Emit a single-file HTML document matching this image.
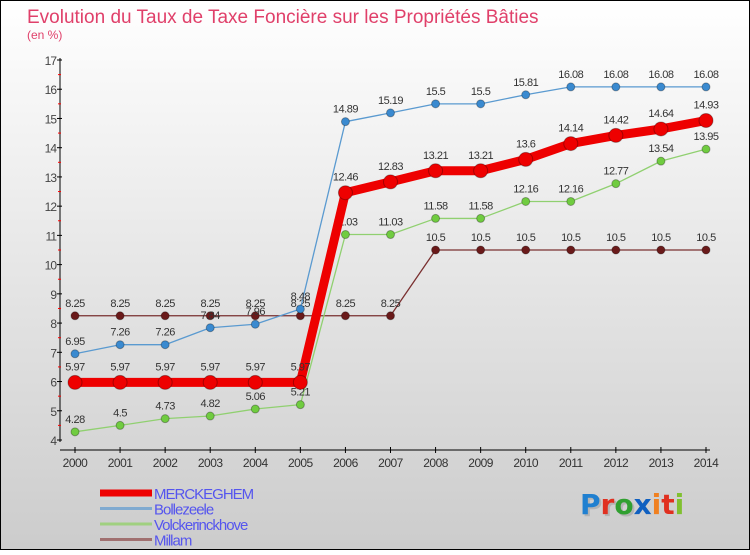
<!DOCTYPE html>
<html><head><meta charset="utf-8"><style>
html,body{margin:0;padding:0}
body{width:750px;height:550px;overflow:hidden;font-family:"Liberation Sans",sans-serif}
</style></head><body>
<svg id="chart" width="750" height="550" xmlns="http://www.w3.org/2000/svg">
<defs>
<linearGradient id="bg" x1="0" y1="0" x2="0" y2="1"><stop offset="0" stop-color="#ffffff"/><stop offset="1" stop-color="#cccccc"/></linearGradient>
</defs>
<rect x="0.5" y="0.5" width="749" height="549" fill="url(#bg)" stroke="#000"/>
<text x="27" y="23" font-size="19" fill="#e0406a">Evolution du Taux de Taxe Foncière sur les Propriétés Bâties</text>
<text x="27" y="39" font-size="12" fill="#e0406a">(en %)</text>
<g id="axes"></g>
<g id="series"></g>
<g id="legend"></g>
<g font-size="28" font-weight="bold" font-family="DejaVu Sans, sans-serif">
<text x="582" y="516" fill="#999" opacity="0.5">Pro</text>
<text x="580" y="514"><tspan fill="#2080d0">P</tspan><tspan fill="#e03020">r</tspan><tspan fill="#30a030">o</tspan><tspan fill="#1060c0">x</tspan><tspan fill="#f08020">i</tspan><tspan fill="#e03020">t</tspan><tspan fill="#80c030">i</tspan></text>
</g>
</svg>
<script>
const years=[2000,2001,2002,2003,2004,2005,2006,2007,2008,2009,2010,2011,2012,2013,2014];
const merckeghem=[5.97,5.97,5.97,5.97,5.97,5.97,12.46,12.83,13.21,13.21,13.6,14.14,14.42,14.64,14.93];
const bollezeele=[6.95,7.26,7.26,7.84,7.96,8.48,14.89,15.19,15.5,15.5,15.81,16.08,16.08,16.08,16.08];
const volckerinckhove=[4.28,4.5,4.73,4.82,5.06,5.21,11.03,11.03,11.58,11.58,12.16,12.16,12.77,13.54,13.95];
const millam=[8.25,8.25,8.25,8.25,8.25,8.25,8.25,8.25,10.5,10.5,10.5,10.5,10.5,10.5,10.5];
const yTicks=[4,5,6,7,8,9,10,11,12,13,14,15,16,17];
const seriesNames=["MERCKEGHEM","Bollezeele","Volckerinckhove","Millam"];

const NS="http://www.w3.org/2000/svg";
function X(i){return 75+i*(706-75)/(years.length-1);}
function Y(v){return 440-(v-4)*(380/13);}
function mk(tag,attrs,parent){const e=document.createElementNS(NS,tag);for(const k in attrs)e.setAttribute(k,attrs[k]);parent.appendChild(e);return e;}
const axes=document.getElementById('axes');
mk('line',{x1:60,y1:58,x2:60,y2:442,stroke:'#000','stroke-width':1},axes);
mk('line',{x1:60,y1:450,x2:710,y2:450,stroke:'#000','stroke-width':1},axes);
yTicks.forEach((t,i)=>{
  const y=Y(t);
  const l=mk('line',{x1:57,y1:y,x2:62,y2:y,stroke:'#000'},axes);
  
  
  const tx=mk('text',{x:56,y:y+5,'font-size':12,'text-anchor':'end',fill:'#444','letter-spacing':'-1'},axes);
  tx.textContent=t;
  
  
  if(i<yTicks.length-1){mk('line',{x1:58,y1:y-380/26,x2:61,y2:y-380/26,stroke:'#f00'},axes);}
});
years.forEach((yr,i)=>{
  const x=X(i);
  mk('line',{x1:x,y1:447,x2:x,y2:453,stroke:'#000'},axes);
  const tx=mk('text',{x:x,y:467,'font-size':12,'text-anchor':'middle',fill:'#333','letter-spacing':'-0.5'},axes);
  tx.textContent=yr;
  
  
});
const sg=document.getElementById('series');
function drawSeries(vals,name,color,lw,r,dot){
  const g=mk('g',{},sg);
  
  
  const pts=vals.map((v,i)=>X(i)+','+Y(v)).join(' ');
  mk('polyline',{points:pts,fill:'none',stroke:color,'stroke-width':lw,'stroke-linejoin':'round'},g);
  vals.forEach((v,i)=>{
    const c=mk('circle',{cx:X(i),cy:Y(v),r:r,fill:dot,stroke:'rgba(0,0,0,0.3)','stroke-width':1},g);
    
    
    const t=mk('text',{x:X(i),y:Y(v)-r-5,'font-size':11,'text-anchor':'middle',fill:'#333','letter-spacing':'-0.5'},g);
    t.textContent=v;
    
    
  });
}
drawSeries(millam,'millam','#7a3030',1.3,4,'#6a1a1a');
drawSeries(volckerinckhove,'volckerinckhove','#90d070',1.3,4,'#70cc40');
drawSeries(bollezeele,'bollezeele','#5a9ad0',1.3,4,'#3a8ad0');
drawSeries(merckeghem,'merckeghem','#ee0000',9,7,'#ee0000');
const lg=document.getElementById('legend');
const lcol=['#ee0000','#80aad0','#a0d080','#a07070'];
const lw=[7,3,3,3];
seriesNames.forEach((n,i)=>{
  const y=493+i*15.5;
  const l=mk('line',{x1:100,y1:y,x2:152,y2:y,stroke:lcol[i],'stroke-width':lw[i]},lg);
  
  
  const t=mk('text',{x:154,y:y+6,'font-size':15,fill:'#5555ee','letter-spacing':'-1'},lg);
  t.textContent=n;
  
  
});
</script>
</body></html>
